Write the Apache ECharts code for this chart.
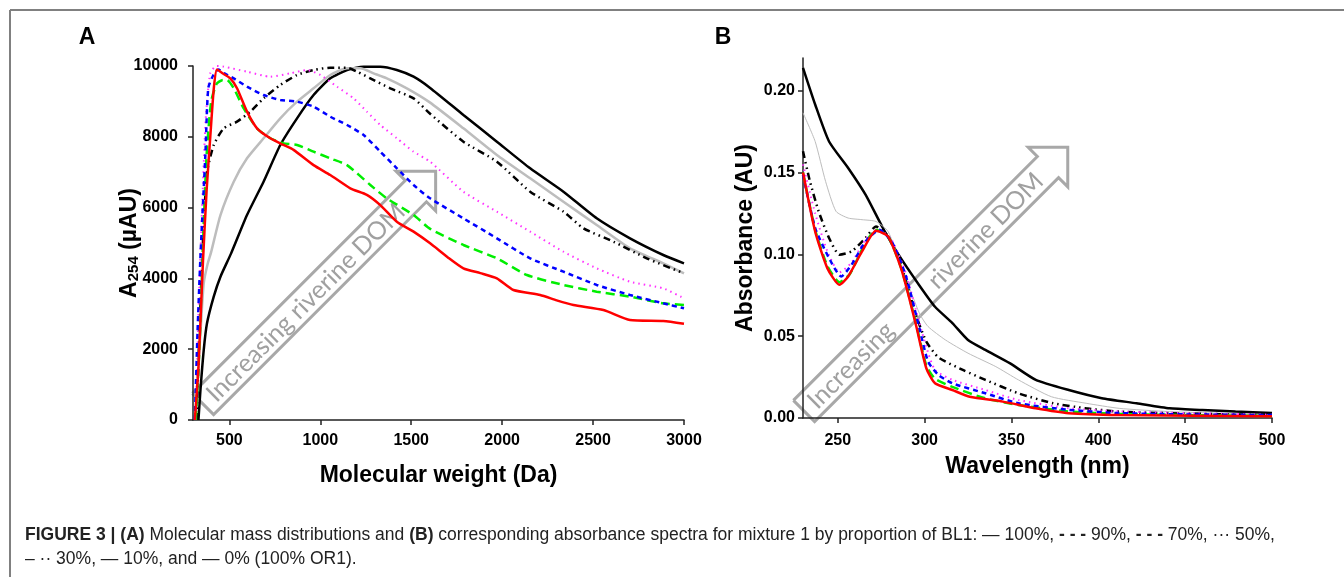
<!DOCTYPE html>
<html>
<head>
<meta charset="utf-8">
<script src="https://cdn.jsdelivr.net/npm/echarts@6/dist/echarts.min.js"></script>
<style>
  html, body { margin: 0; padding: 0; background: #fff; }
  #chart { width: 1344px; height: 577px; }
</style>
</head>
<body>
<div id="chart"></div>
<script>
  // Panel A: molecular weight (Da) vs A254 (µAU), one array per BL1 proportion
  var molA_100 = [[310,0],[330,1500],[355,4500],[375,6500],[395,8000],[415,9400],[432,9900],[460,9800],[505,9650],[542,9370],[597,8710],[652,8240],[725,7960],[798,7770],[853,7630],[963,7200],[1055,6920],[1165,6545],[1256,6360],[1330,6070],[1421,5600],[1513,5320],[1604,4990],[1700,4600],[1787,4285],[1880,4150],[1971,4002],[2062,3672],[2209,3531],[2300,3380],[2392,3249],[2557,3107],[2703,2825],[2886,2797],[3000,2720]]
  var molA_90 = [[315,0],[335,2000],[355,5000],[375,7500],[400,9000],[430,9500],[460,9600],[487,9605],[524,9370],[579,8800],[652,8240],[725,7960],[798,7815],[872,7770],[963,7580],[1055,7390],[1147,7200],[1275,6640],[1366,6260],[1513,5790],[1604,5400],[1787,4944],[1971,4567],[2136,4096],[2337,3814],[2520,3625],[2703,3484],[2886,3296],[3000,3249]]
  var molA_70 = [[310,0],[325,2500],[340,4500],[350,5600],[368,7486],[384,9380],[412,9746],[440,9900],[470,9800],[524,9650],[597,9416],[688,9180],[780,9040],[872,8992],[963,8850],[1055,8568],[1147,8333],[1238,8051],[1330,7580],[1421,7110],[1513,6638],[1604,6262],[1787,5697],[1971,5132],[2154,4567],[2337,4190],[2520,3814],[2703,3531],[2886,3296],[3000,3155]]
  var molA_50 = [[315,0],[330,3000],[350,6000],[370,8500],[395,9800],[430,10000],[469,9982],[597,9840],[725,9698],[835,9793],[927,9887],[1000,9746],[1092,9416],[1183,9086],[1256,8710],[1330,8333],[1421,7958],[1513,7580],[1604,7298],[1787,6450],[1971,5885],[2154,5320],[2337,4755],[2520,4285],[2703,3907],[2886,3720],[3000,3437]]
  var molA_30 = [[320,0],[335,2500],[350,4500],[360,5600],[368,6356],[377,7015],[414,7768],[469,8240],[542,8427],[615,8710],[688,9086],[780,9463],[872,9746],[963,9887],[1055,9952],[1147,9952],[1202,9840],[1275,9651],[1385,9369],[1513,9086],[1604,8650],[1787,7863],[1971,7298],[2154,6450],[2337,5885],[2447,5415],[2612,5038],[2795,4567],[3000,4144]]
  var molA_10 = [[318,0],[330,1500],[345,2800],[359,3861],[380,4400],[400,4750],[451,5790],[524,6732],[597,7392],[688,7957],[780,8522],[872,8992],[963,9369],[1055,9746],[1147,9934],[1220,9934],[1293,9793],[1366,9651],[1476,9369],[1600,8980],[1787,8240],[1971,7486],[2154,6827],[2337,6167],[2520,5508],[2703,4850],[2886,4426],[3000,4144]]
  var molA_0 = [[330,0],[341,847],[359,1977],[377,2731],[414,3484],[451,4049],[509,4700],[597,5790],[688,6732],[780,7768],[872,8522],[963,9180],[1055,9651],[1147,9887],[1238,9981],[1330,9981],[1421,9887],[1513,9698],[1604,9380],[1787,8616],[1971,7863],[2154,7110],[2337,6450],[2520,5697],[2703,5132],[2886,4661],[3000,4426]]

  // Panel B: wavelength (nm) vs absorbance (AU)
  var absB_100 = [[230,0.150],[237,0.114],[244,0.0916],[251,0.0814],[256,0.0865],[264,0.1018],[272,0.1144],[279,0.111],[287,0.0896],[295,0.057],[301,0.0304],[306,0.0212],[316,0.0171],[326,0.013],[345,0.010],[364,0.0059],[383,0.0029],[412,0.0018],[500,0.001]]
  var absB_90 = [[230,0.150],[237,0.115],[244,0.093],[251,0.083],[257,0.088],[264,0.103],[272,0.115],[279,0.111],[287,0.090],[295,0.058],[301,0.032],[306,0.024],[316,0.019],[335,0.012],[354,0.008],[383,0.004],[412,0.0025],[450,0.0018],[500,0.0012]]
  var absB_70 = [[230,0.1487],[237,0.1161],[245,0.0977],[252,0.0865],[258,0.0937],[266,0.1079],[274,0.115],[281,0.1079],[289,0.0875],[297,0.0549],[302,0.0345],[308,0.0263],[316,0.0212],[335,0.0151],[354,0.009],[383,0.005],[412,0.003],[450,0.0022],[500,0.0018]]
  var absB_50 = [[230,0.155],[237,0.125],[244,0.102],[251,0.089],[258,0.095],[266,0.109],[273,0.1155],[281,0.109],[289,0.089],[297,0.058],[302,0.040],[306,0.0294],[316,0.0233],[335,0.0171],[354,0.011],[383,0.006],[412,0.004],[450,0.003],[500,0.002]]
  var absB_30 = [[230,0.163],[234,0.1446],[239,0.1263],[245,0.110],[251,0.0998],[258,0.1018],[266,0.110],[272,0.1171],[279,0.111],[287,0.0916],[295,0.063],[301,0.0467],[308,0.037],[322,0.0294],[335,0.0233],[354,0.0151],[374,0.009],[393,0.0059],[412,0.0039],[441,0.0029],[500,0.0018]]
  var absB_10 = [[230,0.1865],[237,0.169],[243,0.1446],[249,0.1263],[256,0.1222],[264,0.1212],[272,0.1201],[279,0.114],[287,0.0916],[297,0.064],[302,0.0559],[312,0.0477],[325,0.0396],[341,0.0314],[354,0.0233],[373,0.013],[393,0.009],[412,0.0059],[441,0.0039],[470,0.0029],[500,0.0018]]
  var absB_0 = [[230,0.214],[237,0.1916],[245,0.169],[256,0.1528],[266,0.1365],[276,0.1161],[285,0.0998],[297,0.081],[306,0.068],[316,0.058],[325,0.0477],[335,0.0416],[349,0.0335],[364,0.0233],[383,0.0171],[402,0.0121],[422,0.009],[441,0.0059],[460,0.0049],[479,0.0039],[500,0.003]]

  var molTicks = [500, 1000, 1500, 2000, 2500, 3000]
  var wlTicks = [250, 300, 350, 400, 450, 500]
  var absTicks = [0, 0.05, 0.10, 0.15, 0.20]

  var font = 'Liberation Sans, Arial, sans-serif'
  var lbl = {color: '#000', fontFamily: font, fontWeight: 'bold', fontSize: 16}
  var axLine = {lineStyle: {color: '#222', width: 1.5}}
  var axTick = {show: true, length: 5, lineStyle: {color: '#222', width: 1.5}}
  var plain = function (v) { return String(v) }

  // line looks, same order for both panels
  var looks = [
    {name: '100%', color: '#ff0000', type: 'solid', width: 2.5},
    {name: '90%', color: '#00ee00', type: [9, 5], width: 2.5},
    {name: '70%', color: '#0000ff', type: [5, 4], width: 2.5},
    {name: '50%', color: '#ff33ff', type: [1.5, 4], width: 2},
    {name: '30%', color: '#000000', type: [7, 4, 1.5, 4, 1.5, 4], width: 2.5},
    {name: '10%', color: '#bdbdbd', type: 'solid', width: 2.5},
    {name: '0%', color: '#000000', type: 'solid', width: 2.5}
  ]
  var dataA = [molA_100, molA_90, molA_70, molA_50, molA_30, molA_10, molA_0]
  var dataB = [absB_100, absB_90, absB_70, absB_50, absB_30, absB_10, absB_0]

  var series = []
  var drawOrder = [6, 5, 4, 3, 1, 2, 0]
  drawOrder.forEach(function (i) {
    var lk = looks[i]
    series.push({
      name: lk.name, type: 'line', xAxisIndex: 0, yAxisIndex: 0,
      data: dataA[i], showSymbol: false, smooth: 0.2, z: 3,
      lineStyle: {color: lk.color, type: lk.type, width: lk.width}
    })
    series.push({
      name: lk.name, type: 'line', xAxisIndex: 1, yAxisIndex: 1,
      data: dataB[i], showSymbol: false, smooth: 0.2, z: 3,
      lineStyle: {color: lk.color, type: lk.type, width: i === 5 ? 1 : lk.width}
    })
  })

  // outlined arrow with text, rotated 45deg
  function arrow(x, y, len, words) {
    var w = 15, hw = 28
    var kids = [{
      type: 'polyline',
      shape: {points: [[0, -w], [len, -w], [len, -hw], [len + hw, 0], [len, hw], [len, w], [0, w], [0, -w]]},
      style: {stroke: '#a8a8a8', lineWidth: 3, fill: null}
    }]
    words.forEach(function (wd) {
      kids.push({
        type: 'text', x: wd[1], y: 1,
        style: {text: wd[0], fill: '#a0a0a0', font: '25px Lato, sans-serif', verticalAlign: 'middle', align: 'left'}
      })
    })
    return {type: 'group', x: x, y: y, rotation: Math.PI / 4, z: 10, silent: true, children: kids}
  }

  var capFont = '17.5px Liberation Sans, sans-serif'
  var capRich = {
    b: {fontWeight: 'bold', fontSize: 17.5, fontFamily: 'Liberation Sans, sans-serif', fill: '#222'}
  }

  var chart = echarts.init(document.getElementById('chart'))
  chart.setOption({
    animation: false,
    backgroundColor: '#fff',
    grid: [
      {left: 193, top: 66, width: 491, height: 354, containLabel: false, outerBoundsMode: 'none'},
      {left: 803, top: 58, width: 469, height: 360, containLabel: false, outerBoundsMode: 'none'}
    ],
    xAxis: [
      {
        type: 'value', gridIndex: 0, min: 300, max: 3000,
        axisLine: axLine, axisTick: Object.assign({customValues: molTicks}, axTick),
        axisLabel: Object.assign({customValues: molTicks, margin: 13, formatter: plain}, lbl),
        splitLine: {show: false},
        name: 'Molecular weight (Da)', nameLocation: 'middle', nameGap: 44, nameMoveOverlap: false,
        nameTextStyle: {color: '#000', fontFamily: font, fontWeight: 'bold', fontSize: 23}
      },
      {
        type: 'value', gridIndex: 1, min: 230, max: 500,
        axisLine: axLine, axisTick: Object.assign({customValues: wlTicks}, axTick),
        axisLabel: Object.assign({customValues: wlTicks, margin: 15, formatter: plain}, lbl),
        splitLine: {show: false},
        name: 'Wavelength (nm)', nameLocation: 'middle', nameGap: 37, nameMoveOverlap: false,
        nameTextStyle: {color: '#000', fontFamily: font, fontWeight: 'bold', fontSize: 23}
      }
    ],
    yAxis: [
      {
        type: 'value', gridIndex: 0, min: 0, max: 10000, interval: 2000,
        axisLine: Object.assign({show: true}, axLine), axisTick: axTick,
        axisLabel: Object.assign({margin: 15, formatter: plain}, lbl),
        splitLine: {show: false},
        name: '{a|A}{s|254}{a| (µAU)}', nameLocation: 'middle', nameGap: 52, nameRotate: 90, nameMoveOverlap: false,
        nameTextStyle: {
          rich: {
            a: {color: '#000', fontFamily: font, fontWeight: 'bold', fontSize: 23, lineHeight: 30, verticalAlign: 'bottom'},
            s: {color: '#000', fontFamily: font, fontWeight: 'bold', fontSize: 15, lineHeight: 24, verticalAlign: 'bottom'}
          }
        }
      },
      {
        type: 'value', gridIndex: 1, min: 0, max: 0.22,
        axisLine: Object.assign({show: true}, axLine), axisTick: Object.assign({customValues: absTicks}, axTick),
        axisLabel: Object.assign({customValues: absTicks, margin: 8, formatter: function (v) { return v.toFixed(2) }}, lbl),
        splitLine: {show: false},
        name: 'Absorbance (AU)', nameLocation: 'middle', nameGap: 46, nameRotate: 90, nameMoveOverlap: false,
        nameTextStyle: {color: '#000', fontFamily: font, fontWeight: 'bold', fontSize: 23}
      }
    ],
    series: series,
    graphic: [
      {type: 'line', shape: {x1: 10, y1: 10, x2: 1344, y2: 10}, style: {stroke: '#808080', lineWidth: 2}, silent: true},
      {type: 'line', shape: {x1: 10, y1: 10, x2: 10, y2: 577}, style: {stroke: '#808080', lineWidth: 2}, silent: true},
      {type: 'text', x: 87, y: 38, style: {text: 'A', font: 'bold 23px Liberation Sans, sans-serif', fill: '#000', align: 'center', verticalAlign: 'middle'}},
      {type: 'text', x: 723, y: 38, style: {text: 'B', font: 'bold 23px Liberation Sans, sans-serif', fill: '#000', align: 'center', verticalAlign: 'middle'}},
      arrow(203, 404, 301, [['Increasing riverine DOM', 10]]),
      arrow(804, 411, 345, [['Increasing', 10], ['riverine DOM', 180]]),
      {
        type: 'text', x: 25, y: 535,
        style: {
          text: '{b|FIGURE 3 | (A)} Molecular mass distributions and {b|(B)} corresponding absorbance spectra for mixture 1 by proportion of BL1: — 100%, {b|- - -} 90%, {b|- - -} 70%, ··· 50%,',
          font: capFont, fill: '#222', verticalAlign: 'middle', rich: capRich
        }
      },
      {
        type: 'text', x: 25, y: 559,
        style: {
          text: '– ·· 30%, — 10%, and — 0% (100% OR1).',
          font: capFont, fill: '#222', verticalAlign: 'middle'
        }
      }
    ]
  })
</script>
</body>
</html>
